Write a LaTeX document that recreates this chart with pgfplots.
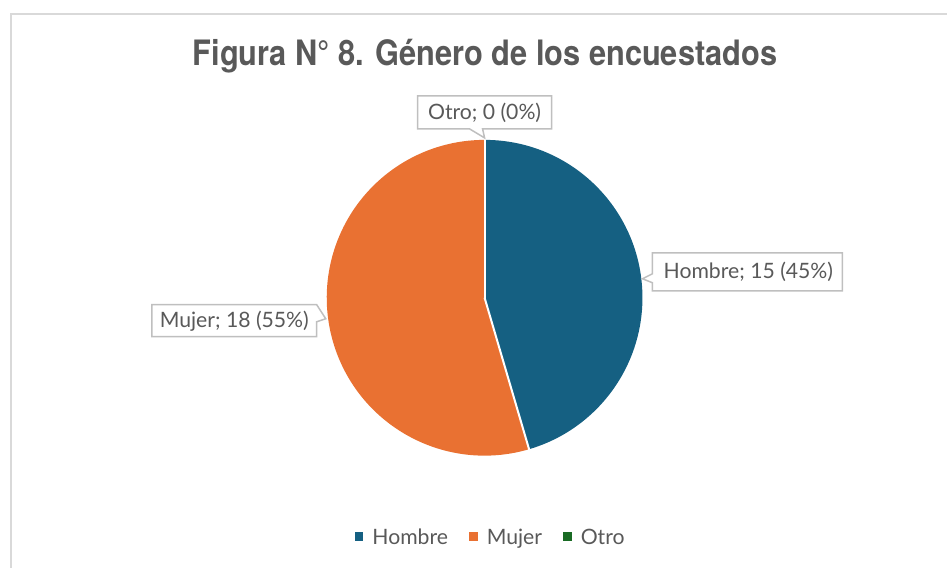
\documentclass[border=0pt]{standalone}
\usepackage{pgfplots}
\pgfplotsset{compat=1.18}
\usepackage{pgfplotstable}
\usepackage{graphicx}
\usepackage{fontspec}
\setmainfont{Lato}
\newfontfamily\titlefont{TeX Gyre Heros}
\definecolor{hombre}{HTML}{156082}
\definecolor{mujer}{HTML}{E97132}
\definecolor{otro}{HTML}{196B24}
\definecolor{txt}{HTML}{595959}
\definecolor{frame}{HTML}{D9D9D9}
\definecolor{boxc}{HTML}{BFBFBF}

\pgfplotstableread{
label value
Hombre 15
Mujer 18
Otro 0
}\datatable

\begin{document}
\begin{tikzpicture}
\pgfplotstablegetelem{0}{value}\of\datatable \let\vH\pgfplotsretval
\pgfplotstablegetelem{1}{value}\of\datatable \let\vM\pgfplotsretval
\pgfplotstablegetelem{2}{value}\of\datatable \let\vO\pgfplotsretval
\pgfmathsetmacro\total{\vH+\vM+\vO}
\pgfmathsetmacro\aA{90}
\pgfmathsetmacro\aB{90-360*\vH/\total}
\pgfmathsetmacro\aC{\aB-360*\vM/\total}
\pgfmathsetmacro\aD{\aC-360*\vO/\total}
\begin{axis}[
  x=0.5pt, y=0.5pt,
  xmin=0, xmax=948, ymin=0, ymax=568,
  hide axis, clip=false,
  legend columns=3,
  legend style={at={(axis cs:490,31)}, anchor=center, draw=none, fill=none,
    font=\fontsize{10.6}{12}\selectfont\color{txt},
    inner sep=0pt,
    /tikz/every odd column/.append style={column sep=4.5pt},
    /tikz/every even column/.append style={column sep=10.5pt},
    nodes={inner sep=0pt, text depth=0pt}},
]
\path (axis cs:0,0) rectangle (axis cs:948,568);
% chart frame
\draw[frame, line width=0.8pt] (axis cs:11,0) -- (axis cs:11,554) -- (axis cs:948,554);
% title
\node[anchor=base, text=txt] at (axis cs:485.5,502)
  {\resizebox{292.5pt}{\height}{\titlefont\bfseries\fontsize{17.5}{21}\selectfont Figura N° 8. Género de los encuestados}};
% pie slices
\fill[hombre] (axis cs:485,270) -- ++(\aA:79pt) arc[start angle=\aA, end angle=\aB, radius=79pt] -- cycle;
\fill[mujer] (axis cs:485,270) -- ++(\aB:79pt) arc[start angle=\aB, end angle=\aC, radius=79pt] -- cycle;
\draw[white, line width=1pt] (axis cs:485,270) -- ++(\aA:79.5pt);
\draw[white, line width=1pt] (axis cs:485,270) -- ++(\aB:79.5pt);
% legend
\addlegendimage{legend image code/.code={\fill[hombre, draw=none] (0pt,-2.2pt) rectangle (4.4pt,2.2pt);}}
\addlegendentry{Hombre}
\addlegendimage{legend image code/.code={\fill[mujer, draw=none] (0pt,-2.2pt) rectangle (4.4pt,2.2pt);}}
\addlegendentry{Mujer}
\addlegendimage{legend image code/.code={\fill[otro, draw=none] (0pt,-2.2pt) rectangle (4.4pt,2.2pt);}}
\addlegendentry{Otro}
% data label callouts
\draw[boxc, fill=white, line width=0.75pt] (axis cs:653,315) -- (axis cs:843,315) -- (axis cs:843,277) -- (axis cs:653,277) -- (axis cs:653,285) -- (axis cs:643,289) -- (axis cs:653,294) -- cycle;
\node[text=txt, font=\fontsize{10.6}{12}\selectfont] at (axis cs:749,296) {Hombre; 15 (45\%)};
\draw[boxc, fill=white, line width=0.75pt] (axis cs:152,263) -- (axis cs:317,263) -- (axis cs:326,249) -- (axis cs:317,246) -- (axis cs:317,231) -- (axis cs:152,231) -- cycle;
\node[text=txt, font=\fontsize{10.6}{12}\selectfont] at (axis cs:234.5,247) {Mujer; 18 (55\%)};
\draw[boxc, fill=white, line width=0.75pt] (axis cs:418,472) -- (axis cs:552,472) -- (axis cs:552,439) -- (axis cs:483,439) -- (axis cs:485,430) -- (axis cs:470,439) -- (axis cs:418,439) -- cycle;
\node[text=txt, font=\fontsize{10.6}{12}\selectfont] at (axis cs:485,455.5) {Otro; 0 (0\%)};
\end{axis}
\end{tikzpicture}
\end{document}
